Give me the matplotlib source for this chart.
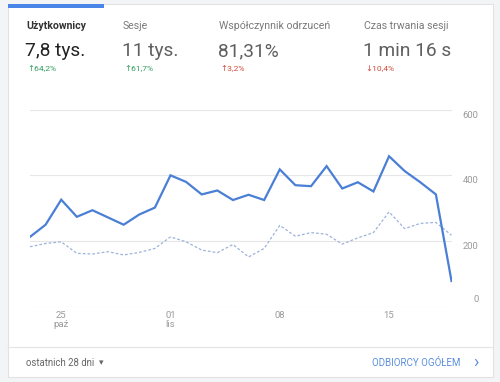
import matplotlib
matplotlib.use("Agg")
import matplotlib.pyplot as plt
from matplotlib.patches import Rectangle
from matplotlib.lines import Line2D

plt.rcParams['font.family'] = ['Roboto', 'DejaVu Sans']

# ---- data ----
days = list(range(28))
current = [213, 250, 326, 274, 294, 272, 250, 281, 302, 400, 380, 342, 354, 325,
           341, 325, 418, 370, 367, 428, 360, 379, 351, 458, 413, 379, 342, 79]
previous = [183, 193, 198, 163, 161, 168, 158, 166, 178, 213, 198, 173, 165, 190,
            152, 178, 248, 215, 226, 221, 191, 210, 226, 289, 238, 254, 257, 218]
xtick_pos = [2, 9, 16, 23]
xtick_labels = ['25\npaź', '01\nlis', '08', '15']
ytick_vals = [0, 200, 400, 600]

metric_titles = ['Użytkownicy', 'Sesje', 'Współczynnik odrzuceń', 'Czas trwania sesji']
metric_values = ['7,8 tys.', '11 tys.', '81,31%', '1 min 16 s']
metric_changes = ['↑64,2%', '↑61,7%', '↑3,2%', '↓10,4%']
metric_change_colors = ['#2f9e5c', '#2f9e5c', '#d44a3e', '#d44a3e']

W, H = 500, 382
fig = plt.figure(figsize=(5, 3.82), dpi=100, facecolor='#f3f4f5')

def fx(x):
    return x / W

def fy(y):
    return 1 - y / H

# card
card = Rectangle((fx(8), fy(377)), fx(493) - fx(8), fy(4) - fy(377),
                 transform=fig.transFigure, facecolor='white', edgecolor='#e2e2e2',
                 linewidth=0.8, zorder=-10)
fig.patches.append(card)
# blue tab bar
bar = Rectangle((fx(8), fy(7.5)), fx(104) - fx(8), fy(4) - fy(7.5),
                transform=fig.transFigure, facecolor='#4a86e8', edgecolor='none', zorder=-5)
fig.patches.append(bar)
# footer divider
fig.add_artist(Line2D([fx(8), fx(493)], [fy(347), fy(347)], transform=fig.transFigure,
                      color='#e4e4e4', linewidth=0.8, zorder=-5))

# header metrics
xs = [26, 123, 219, 364]
for i in range(4):
    if i == 0:
        fig.text(fx(xs[i]), fy(26), metric_titles[i], fontsize=7.6, fontweight='bold',
                 color='#333333', va='center', ha='left')
        fig.text(fx(xs[i] - 1), fy(51), metric_values[i], fontsize=13.8,
                 color='#222222', va='center', ha='left')
    else:
        fig.text(fx(xs[i]), fy(26), metric_titles[i], fontsize=7.6,
                 color='#7a7a7a', va='center', ha='left')
        fig.text(fx(xs[i] - 1), fy(51), metric_values[i], fontsize=13.8,
                 color='#5f5f5f', va='center', ha='left')
    fig.text(fx(xs[i] + 1), fy(69), metric_changes[i], fontsize=6.1,
             color=metric_change_colors[i], va='center', ha='left')

# chart axes
ax = fig.add_axes([fx(30), fy(307), fx(451.5) - fx(30), fy(109.5) - fy(307)])
ax.set_facecolor('none')
ax.set_xlim(0, 27)
ax.set_ylim(0, 600)
for v in ytick_vals:
    ax.axhline(v, color='#e6e6e6', linewidth=0.8, zorder=0)
ax.plot(days, previous, color='#9db3da', linewidth=0.9, linestyle=(0, (2.2, 1.6)), zorder=2)
ax.plot(days, current, color='#4a7fd6', linewidth=1.6, zorder=3, solid_joinstyle='miter')
for s in ax.spines.values():
    s.set_visible(False)
ax.set_xticks([])
ax.set_yticks([])
ytrans = ax.get_yaxis_transform()
for v in ytick_vals:
    off = 7 if v == 0 else -5.5
    ax.annotate(str(v), xy=(1, v), xycoords=ytrans, xytext=(27, off),
                textcoords='offset pixels', ha='right', va='center',
                fontsize=6.8, color='#9a9a9a', annotation_clip=False)
xtrans = ax.get_xaxis_transform()
for p, lab in zip(xtick_pos, xtick_labels):
    ax.annotate(lab, xy=(p, 0), xycoords=xtrans, xytext=(0, -4),
                textcoords='offset pixels', ha='center', va='top',
                fontsize=6.8, color='#9a9a9a', linespacing=0.95, annotation_clip=False)

# footer
fig.text(fx(26), fy(363), 'ostatnich 28 dni', fontsize=6.9, color='#666666',
         va='center', ha='left')
fig.text(fx(99), fy(363), '▾', fontsize=6.5, color='#666666', va='center', ha='left',
         family='DejaVu Sans')
fig.text(fx(460), fy(363), 'ODBIORCY OGÓŁEM', fontsize=7.0, color='#5b8fde',
         va='center', ha='right')
fig.text(fx(476), fy(362.5), '›', fontsize=13, color='#5b8fde', va='center',
         ha='center')

fig.savefig('out.png', dpi=100, facecolor=fig.get_facecolor())
